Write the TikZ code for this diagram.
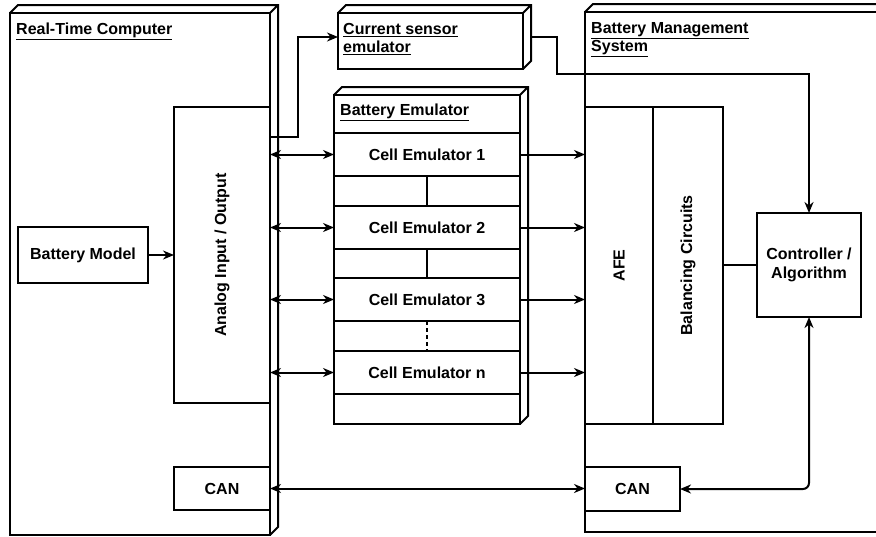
\documentclass[tikz,border=0pt]{standalone}
\usepackage{fontspec}
\setmainfont{Liberation Sans}
\usetikzlibrary{arrows.meta,calc}

\newcommand{\diagfont}{\fontsize{16}{18.5}\selectfont\bfseries}
\newcommand{\titleul}[1]{\underline{#1}}

\tikzset{
  blockbox/.style={draw, line width=2pt, outer sep=0pt, inner sep=2pt, anchor=north west, align=center, font=\diagfont},
  titletext/.style={anchor=north west, align=left, inner sep=0pt, font=\diagfont},
  verttext/.style={rotate=90, inner sep=0pt, font=\diagfont},
  edge3d/.style={line width=2pt},
  wire/.style={line width=2pt},
  sig/.style={-{Stealth[length=11pt,width=9pt,inset=3.5pt]}, line width=2pt},
  bisig/.style={{Stealth[length=11pt,width=9pt,inset=3.5pt]}-{Stealth[length=11pt,width=9pt,inset=3.5pt]}, line width=2pt}
}

\begin{document}
\begin{tikzpicture}[x=1pt,y=-1pt]
\clip (0,0) rectangle (876,536);
\fill[white] (0,0) rectangle (876,536);
% containers with 3d faces
\node[blockbox, minimum width=260pt, minimum height=522pt] (rtc) at (10,13) {};
\node[blockbox, minimum width=185pt, minimum height=56pt] (sensor) at (338,13) {};
\node[blockbox, minimum width=186pt, minimum height=329pt] (batemu) at (334,95) {};
\node[blockbox, minimum width=320pt, minimum height=520pt] (bms) at (585,12) {};
\foreach \b in {rtc,sensor,batemu,bms} {
  \draw[edge3d] (\b.north west) -- ++(8,-8) -| ([shift={(8pt,8pt)}]\b.south east) -- (\b.south east)
    (\b.north east) -- ++(8,-8);
}
\node[titletext] (rtctitle) at ([shift={(6pt,-10pt)}]rtc.north west) {\titleul{Real-Time Computer}};
\node[titletext] (sensortitle) at ([shift={(5pt,-10pt)}]sensor.north west) {\titleul{Current sensor}\\\titleul{emulator}};
\node[titletext] (batemutitle) at ([shift={(6pt,-9pt)}]batemu.north west) {\titleul{Battery Emulator}};
\node[titletext] (bmstitle) at ([shift={(6pt,-10pt)}]bms.north west) {\titleul{Battery Management}\\\titleul{System}};

% real-time computer
\node[blockbox, minimum width=130pt, minimum height=56pt] (batmodel) at (18,227) {Battery Model};
\node[blockbox, minimum width=96pt, minimum height=296pt] (aio) at (174,107) {};
\node[verttext] (aiotext) at (aio.center) {Analog Input / Output};
\node[blockbox, minimum width=96pt, minimum height=43pt] (canrtc) at (174,467) {CAN};

% battery emulator
\foreach \c/\y in {1/133,2/206,3/278,n/351} {
  \node[blockbox, minimum width=186pt, minimum height=43pt] (cell\c) at (334,\y) {Cell Emulator \c};
}
\draw[wire] (cell1) -- (cell2);
\draw[wire] (cell2) -- (cell3);
\draw[wire, dash pattern=on 4pt off 3pt] (cell3) -- (celln);

% bms
\node[blockbox, minimum width=68pt, minimum height=317pt] (afe) at (585,107) {};
\node[verttext] (afetext) at (afe.center) {AFE};
\node[blockbox, minimum width=70pt, minimum height=317pt] (bal) at (653,107) {};
\node[verttext] (baltext) at (bal.center) {Balancing Circuits};
\node[blockbox, minimum width=95pt, minimum height=44pt] (canbms) at (585,467) {CAN};
\node[blockbox, minimum width=104pt, minimum height=104pt] (ctrl) at (757,213) {Controller /\\Algorithm};

% connections
\draw[sig] (batmodel.east) -- (aio.west |- batmodel.east);
\foreach \c in {1,2,3,n} {
  \draw[bisig] (aio.east |- cell\c.west) -- (cell\c.west);
  \draw[sig] (cell\c.east) -- (afe.west |- cell\c.east);
}
\draw[sig] ([yshift=-30pt]aio.north east) -- ++(28,0) |- ([yshift=4pt]sensor.west);
\draw[sig] ([shift={(8pt,4pt)}]sensor.east) -- ++(26,0) -- ++(0,37) -| (ctrl.north);
\draw[wire] (bal.east |- ctrl.west) -- (ctrl.west);
\draw[bisig] (canrtc.east) -- (canbms.west |- canrtc.east);
\draw[bisig, rounded corners=6pt] (canbms.east) -| (ctrl.south);
\end{tikzpicture}
\end{document}
